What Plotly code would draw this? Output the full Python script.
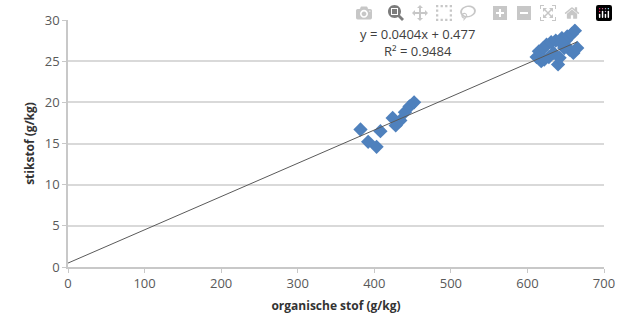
import plotly.graph_objects as go

organische_stof = [382, 392, 403, 408, 424, 428, 434, 440, 446, 452,
                   612, 615, 618, 621, 625, 628, 631, 634, 637, 640,
                   642, 645, 648, 650, 652, 655, 658, 660, 662, 665, 622, 644]
stikstof = [16.7, 15.2, 14.6, 16.5, 18.1, 17.2, 17.8, 18.8, 19.5, 20.0,
            25.5, 26.2, 25.0, 26.6, 27.0, 25.5, 27.3, 26.0, 27.5, 24.6,
            25.4, 27.8, 26.6, 27.5, 28.0, 26.4, 28.3, 26.0, 28.7, 26.6, 25.2, 27.2]

slope = 0.0404
intercept = 0.477
trend_x = [0, 665]
trend_y = [slope * v + intercept for v in trend_x]

x_ticks = [0, 100, 200, 300, 400, 500, 600, 700]
y_ticks = [0, 5, 10, 15, 20, 25, 30]

fig = go.Figure()
fig.add_trace(go.Scatter(x=organische_stof, y=stikstof, mode="markers",
                         marker=dict(symbol="diamond", size=11, color="#4F81BD"),
                         showlegend=False))
fig.add_trace(go.Scatter(x=trend_x, y=trend_y, mode="lines",
                         line=dict(color="#5a5a5a", width=1), showlegend=False))

font = "Open Sans, Liberation Sans, sans-serif"
fig.update_layout(
    width=618, height=333,
    margin=dict(l=68, r=14, t=20, b=66, autoexpand=False),
    paper_bgcolor="white", plot_bgcolor="white",
    font=dict(family=font, size=13, color="#595959"),
    xaxis=dict(range=[0, 700], tickvals=x_ticks, showgrid=False,
               showline=True, linecolor="#c8c8c8", linewidth=1.5,
               ticks="outside", ticklen=4, tickcolor="#c8c8c8", zeroline=False,
               ticklabeloverflow="allow",
               tickfont=dict(size=13, color="#595959"),
               title=dict(text="<b>organische stof (g/kg)</b>",
                          font=dict(size=12, color="#333333"), standoff=10)),
    yaxis=dict(range=[0, 30], tickvals=y_ticks, showgrid=True,
               gridcolor="#d9d9d9", gridwidth=1.5,
               showline=True, linecolor="#c8c8c8", linewidth=1.5,
               ticks="outside", ticklen=4, tickcolor="#c8c8c8", zeroline=False,
               tickfont=dict(size=13, color="#595959"),
               title=dict(text="<b>stikstof (g/kg)</b>",
                          font=dict(size=12, color="#333333"), standoff=8)),
)
fig.add_annotation(x=457, y=27.3, xref="x", yref="y",
                   text="y = 0.0404x + 0.477<br>R² = 0.9484",
                   showarrow=False, align="center",
                   font=dict(size=13, color="#404040", family=font))
fig.write_html("out.html",
               post_script="document.body.style.margin='0';"
                           "document.documentElement.style.overflow='hidden';"
                           "document.body.style.overflow='hidden';")
